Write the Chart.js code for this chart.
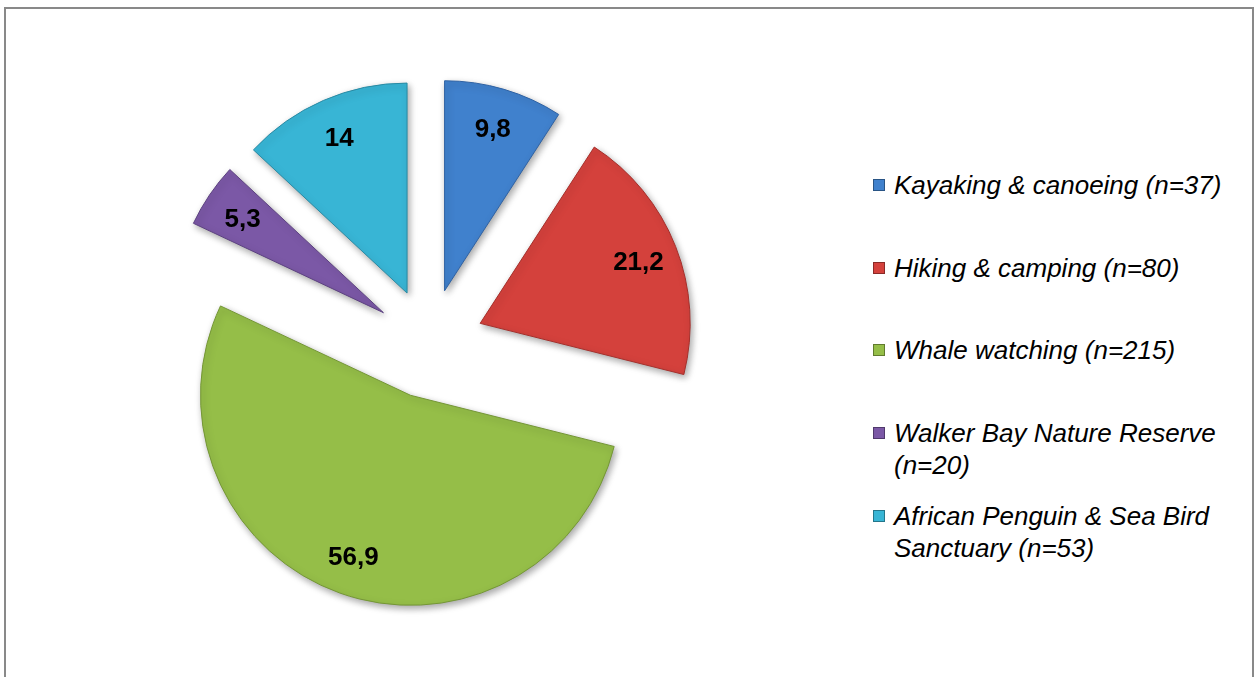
<!DOCTYPE html>
<html>
<head>
<meta charset="utf-8">
<script src="https://cdn.jsdelivr.net/npm/chart.js@4.4.1/dist/chart.umd.min.js"></script>
<style>
    body { margin: 0; background: #fff; font-family: "Liberation Sans", Arial, sans-serif; }
    #frame { position: absolute; left: 4px; top: 7px; width: 1246px; height: 680px; border: 2px solid #898989; border-bottom: none; }
    #chartBox { position: absolute; left: 0; top: 0; width: 858px; height: 677px; }
    #legend { position: absolute; left: 0; top: 0; }
    .legend-item { position: absolute; left: 873px; width: 370px; display: flex; align-items: flex-start; }
    .legend-item .box { width: 12px; height: 12px; margin-top: 10px; margin-right: 9px; flex: none; box-sizing: border-box; border: 1px solid rgba(0,0,0,0.35); }
    .legend-item .text { font-style: italic; font-size: 26px; line-height: 32px; color: #000; width: 350px; }
</style>
</head>
<body>
<div id="frame"></div>
<div id="chartBox"><canvas id="pieChart"></canvas></div>
<div id="legend"></div>
<script>
document.addEventListener('DOMContentLoaded', () => {
    // 데이터
    const categories = [
        'Kayaking & canoeing (n=37)',
        'Hiking & camping (n=80)',
        'Whale watching (n=215)',
        'Walker Bay Nature Reserve (n=20)',
        'African Penguin & Sea Bird Sanctuary (n=53)'
    ];
    const shares = [9.8, 21.2, 56.9, 5.3, 14];
    const sliceColors = ['#4081cd', '#d4413c', '#95be48', '#7b58a6', '#38b5d5'];
    const borderColors = ['#2f62a3', '#a52f2b', '#749636', '#5c4180', '#2a8aa3'];

    const EXPLODE = 55;   // 조각 분리 거리
    const RADIUS = 210;

    // 조각을 바깥으로 밀어내고 라벨 그리기
    const pieExtras = {
        id: 'pieExtras',
        afterDatasetUpdate(chart, args) {
            const meta = chart.getDatasetMeta(args.index);
            meta.data.forEach(arc => {
                const mid = (arc.startAngle + arc.endAngle) / 2;
                arc.x += Math.cos(mid) * EXPLODE;
                arc.y += Math.sin(mid) * EXPLODE;
            });
        },
        beforeDatasetsDraw(chart) {
            const ctx = chart.ctx;
            ctx.save();
            ctx.shadowColor = 'rgba(0,0,0,0.35)';
            ctx.shadowBlur = 7;
            ctx.shadowOffsetX = 2;
            ctx.shadowOffsetY = 3;
        },
        afterDatasetsDraw(chart) {
            const ctx = chart.ctx;
            ctx.restore();
            const meta = chart.getDatasetMeta(0);
            ctx.save();
            ctx.font = 'bold 26px "Liberation Sans", Arial, sans-serif';
            ctx.fillStyle = '#000';
            ctx.textAlign = 'center';
            ctx.textBaseline = 'middle';
            meta.data.forEach((arc, i) => {
                const mid = (arc.startAngle + arc.endAngle) / 2;
                const r = arc.outerRadius * 0.81;
                const label = String(shares[i]).replace('.', ',');
                ctx.fillText(label, arc.x + Math.cos(mid) * r, arc.y + Math.sin(mid) * r + 2);
            });
            ctx.restore();
        }
    };

    const ctx = document.getElementById('pieChart').getContext('2d');
    const pieChart = new Chart(ctx, {
        type: 'pie',
        data: {
            labels: categories,
            datasets: [{
                data: shares,
                backgroundColor: sliceColors,
                borderColor: borderColors,
                borderWidth: 1,
                clip: false
            }]
        },
        options: {
            responsive: true,
            maintainAspectRatio: false,
            animation: false,
            radius: RADIUS,
            layout: { padding: { top: 10 } },
            plugins: {
                legend: { display: false },
                tooltip: { enabled: false }
            },
            events: []
        },
        plugins: [pieExtras]
    });

    // 범례
    const legendTops = [169, 252, 334, 417, 500];
    const legendDiv = document.getElementById('legend');
    let html = '';
    categories.forEach((name, i) => {
        html += `<div class="legend-item" style="top:${legendTops[i]}px">`;
        html += `<span class="box" style="background:${sliceColors[i]}"></span>`;
        html += `<span class="text">${name.replace('&', '&amp;')}</span>`;
        html += `</div>`;
    });
    legendDiv.innerHTML = html;
});
</script>
</body>
</html>
